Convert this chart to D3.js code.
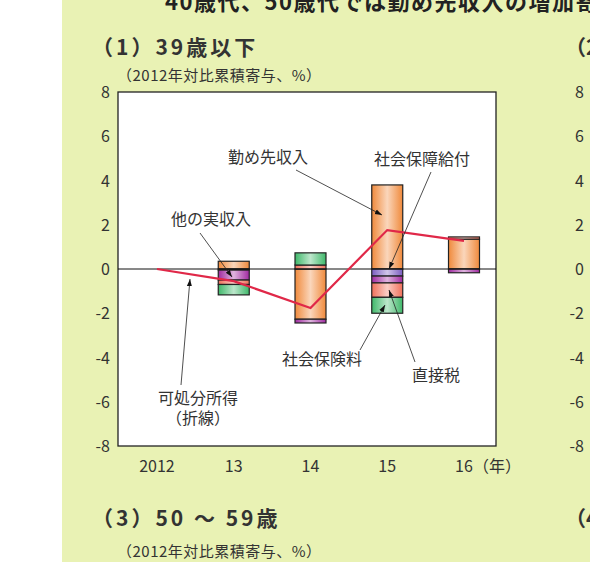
<!DOCTYPE html>
<html><head><meta charset="utf-8">
<script src="https://cdn.jsdelivr.net/npm/d3@7"></script>
<style>body{margin:0;background:#fff}text{font-family:"Noto Sans CJK JP",sans-serif}</style>
</head><body>
<svg id="c" width="590" height="562"></svg>
<script>
// data
var years = ["2012", "13", "14", "15", "16"];
var yTicks = [-8, -6, -4, -2, 0, 2, 4, 6, 8];
var kinmu = [0, 0.35, -2.27, 3.8, 1.35];      // 勤め先収入
var hoshoKyufu = [0, -0.05, 0, -0.32, 0];     // 社会保障給付
var taJitsu = [0, -0.45, -0.17, -0.31, -0.17]; // 他の実収入
var chokuzei = [0, -0.2, 0.18, -0.65, 0.1];   // 直接税
var hokenryo = [0, -0.47, 0.55, -0.72, 0];    // 社会保険料
var kashobun = [0, -0.55, -1.76, 1.76, 1.27]; // 可処分所得（折線）

var series = [
  {name: "勤め先収入", vals: kinmu, c: "#f08a3c"},
  {name: "社会保障給付", vals: hoshoKyufu, c: "#7a5cc0"},
  {name: "他の実収入", vals: taJitsu, c: "#a02aa0"},
  {name: "直接税", vals: chokuzei, c: "#f0705a"},
  {name: "社会保険料", vals: hokenryo, c: "#3fb86a"}
];

var svg = d3.select("#c");
svg.append("rect").attr("x", 62).attr("y", 0).attr("width", 528).attr("height", 562).attr("fill", "#e9f2b4");

// gradients: light center
var defs = svg.append("defs");
series.forEach(function(s, i) {
  var g = defs.append("linearGradient").attr("id", "g" + i);
  g.append("stop").attr("offset", "0%").attr("stop-color", s.c);
  g.append("stop").attr("offset", "50%").attr("stop-color", d3.interpolateRgb(s.c, "#fff")(0.65));
  g.append("stop").attr("offset", "100%").attr("stop-color", s.c);
});

var x = d3.scalePoint().domain(years).range([157, 464]);
var y = d3.scaleLinear().domain([-8, 8]).range([446, 92]);

svg.append("rect").attr("x", 118).attr("y", 92).attr("width", 378).attr("height", 354)
  .attr("fill", "#fff").attr("stroke", "#222").attr("stroke-width", 1.3);

// titles
svg.append("text").attr("x", 165).attr("y", 10).attr("font-size", 22).attr("letter-spacing", 1.5).attr("font-weight", "bold").attr("fill", "#222")
  .text("40歳代、50歳代では勤め先収入の増加寄");
svg.append("text").attr("x", 92).attr("y", 55).attr("font-size", 21).attr("letter-spacing", 3).attr("font-weight", "bold").attr("fill", "#333").text("（1）39歳以下");
svg.append("text").attr("x", 117).attr("y", 81).attr("font-size", 15).attr("letter-spacing", 0.5).attr("fill", "#333").text("（2012年対比累積寄与、%）");
svg.append("text").attr("x", 565).attr("y", 55).attr("font-size", 21).attr("font-weight", "bold").attr("fill", "#333").text("（2");
svg.append("text").attr("x", 92).attr("y", 526).attr("font-size", 21).attr("letter-spacing", 3).attr("font-weight", "bold").attr("fill", "#333").text("（3）50 ～ 59歳");
svg.append("text").attr("x", 117).attr("y", 557).attr("font-size", 15).attr("letter-spacing", 0.5).attr("fill", "#333").text("（2012年対比累積寄与、%）");
svg.append("text").attr("x", 565).attr("y", 526).attr("font-size", 21).attr("font-weight", "bold").attr("fill", "#333").text("（4");

// y ticks (left and the next panel's)
[110, 584].forEach(function(px) {
  svg.selectAll(null).data(yTicks).enter().append("text")
    .attr("x", px).attr("y", function(d) { return y(d) + 6; })
    .attr("text-anchor", "end").attr("font-size", 16).attr("fill", "#333").text(function(d) { return d; });
});

// x labels
svg.selectAll(null).data(years).enter().append("text")
  .attr("x", function(d) { return x(d); }).attr("y", 472)
  .attr("text-anchor", "middle").attr("font-size", 16).attr("fill", "#333").text(function(d) { return d; });
svg.append("text").attr("x", x("16") + 9).attr("y", 472).attr("font-size", 16).attr("fill", "#333").text("（年）");

// stacked bars
var bw = 31;
years.forEach(function(yr, j) {
  var pos = 0, neg = 0;
  series.forEach(function(s, i) {
    var v = s.vals[j];
    if (v === 0) return;
    var a, b;
    if (v > 0) { a = pos; b = pos + v; pos = b; } else { a = neg; b = neg + v; neg = b; }
    svg.append("rect").attr("x", x(yr) - bw / 2).attr("y", y(Math.max(a, b)))
      .attr("width", bw).attr("height", Math.abs(y(a) - y(b)))
      .attr("fill", "url(#g" + i + ")").attr("stroke", "#222").attr("stroke-width", 1.2);
  });
});

// zero line
svg.append("line").attr("x1", 118).attr("x2", 496).attr("y1", y(0)).attr("y2", y(0)).attr("stroke", "#111").attr("stroke-width", 1);

// disposable income line
svg.append("path").datum(kashobun)
  .attr("d", d3.line().x(function(d, i) { return x(years[i]); }).y(function(d) { return y(d); }))
  .attr("fill", "none").attr("stroke", "#e02848").attr("stroke-width", 2.2);

// annotations
defs.append("marker").attr("id", "ar").attr("viewBox", "0 0 10 10").attr("refX", 10).attr("refY", 5)
  .attr("markerWidth", 9).attr("markerHeight", 9).attr("orient", "auto")
  .append("path").attr("d", "M0,1.5L10,5L0,8.5z").attr("fill", "#111");
var notes = [
  {t: ["勤め先収入"], tx: 268, ty: 163, a: [296, 170, 382, 215]},
  {t: ["社会保障給付"], tx: 422, ty: 165, a: [431, 172, 389, 269]},
  {t: ["他の実収入"], tx: 211, ty: 225, a: [200, 233, 232, 277]},
  {t: ["社会保険料"], tx: 322, ty: 365, a: [360, 350, 385, 305]},
  {t: ["直接税"], tx: 436, ty: 381, a: [415, 362, 389, 290]},
  {t: ["可処分所得", "（折線）"], tx: 198, ty: 404, a: [181, 385, 190, 279]}
];
notes.forEach(function(n) {
  svg.append("line").attr("x1", n.a[0]).attr("y1", n.a[1]).attr("x2", n.a[2]).attr("y2", n.a[3])
    .attr("stroke", "#222").attr("stroke-width", 0.8).attr("marker-end", "url(#ar)");
  n.t.forEach(function(s, k) {
    svg.append("text").attr("x", n.tx).attr("y", n.ty + k * 20).attr("text-anchor", "middle")
      .attr("font-size", 16).attr("fill", "#333").text(s);
  });
});
</script>
</body></html>
